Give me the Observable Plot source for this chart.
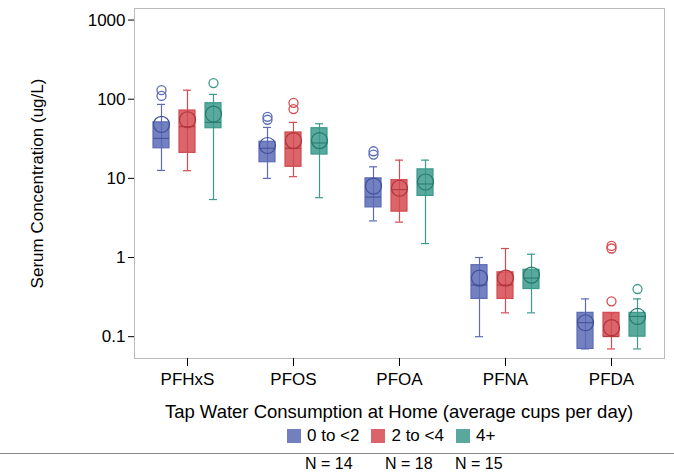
<!DOCTYPE html>
<html><head><meta charset="utf-8">
<script src="https://cdn.jsdelivr.net/npm/d3@7"></script>
<script src="https://cdn.jsdelivr.net/npm/@observablehq/plot@0.6"></script>
<style>
body{margin:0;font-family:Arial,"Liberation Sans",sans-serif;background:#fff}
#foot{position:relative;width:674px;height:80px;color:#000}
</style></head><body>
<div id="chart"></div>
<div id="foot"></div>
<script>
const compounds = ["PFHxS", "PFOS", "PFOA", "PFNA", "PFDA"];
const groups = ["0 to <2", "2 to <4", "4+"];
const colors = ["#5b6bb6", "#d44a50", "#3c9a8c"];
const darker = ["#3f4f9a", "#b0343a", "#257a6d"];
const groupN = ["N = 14", "N = 18", "N = 15"];
const yTicks = [0.1, 1, 10, 100, 1000];

// [low whisker, q1, median, q3, high whisker, mean] per compound, per group
const stats = [
  [[12.6, 24, 32, 51, 86, 48], [12.5, 21, 45, 72, 130, 55], [5.4, 43, 51, 89, 115, 65]],
  [[10, 16, 24, 29, 44, 26], [10.5, 14, 24, 38, 51, 30], [5.7, 20, 28, 43, 49, 30]],
  [[2.9, 4.3, 5.8, 10, 14, 8], [2.8, 3.8, 7.2, 9.5, 17, 7.5], [1.5, 6, 8.5, 13, 17, 9]],
  [[0.1, 0.3, 0.45, 0.8, 1.0, 0.55], [0.2, 0.3, 0.45, 0.65, 1.3, 0.55], [0.2, 0.4, 0.55, 0.7, 1.1, 0.6]],
  [[0.07, 0.07, 0.15, 0.2, 0.3, 0.15], [0.07, 0.1, 0.1, 0.2, 0.2, 0.13], [0.07, 0.1, 0.18, 0.2, 0.3, 0.18]]
];
const outliers = [
  [[110, 130], [], [160]],
  [[55, 60], [75, 90], []],
  [[20, 22], [], []],
  [[], [], []],
  [[], [0.28, 1.3, 1.4], [0.4]]
];

const boxes = [];
const outs = [];
compounds.forEach((c, i) => groups.forEach((g, j) => {
  const [lo, q1, med, q3, hi, mean] = stats[i][j];
  boxes.push({c, g, lo, q1, med, q3, hi, mean, dk: darker[j]});
  outliers[i][j].forEach(v => outs.push({c, g, v}));
}));

const chart = Plot.plot({
  width: 674, height: 395,
  marginLeft: 132, marginRight: 8, marginTop: 8, marginBottom: 37,
  style: {fontSize: "17px", fontFamily: "Arial, 'Liberation Sans', sans-serif", color: "#000"},
  fx: {domain: compounds, padding: 0, label: null},
  x: {domain: groups, axis: null, paddingInner: 0.37, paddingOuter: 0.67},
  y: {type: "log", domain: [0.053, 1400]},
  color: {domain: groups, range: colors},
  marks: [
    Plot.frame({stroke: "#bbb", facet: "super"}),
    Plot.axisFx({anchor: "bottom", fontSize: 17, tickSize: 8, tickPadding: 6, label: null}),
    Plot.axisY({ticks: yTicks, tickFormat: d => String(d), fontSize: 17, tickSize: 6,
      label: "Serum Concentration (ug/L)", labelAnchor: "center", labelArrow: "none", labelOffset: 104}),
    Plot.ruleX(boxes, {fx: "c", x: "g", y1: "lo", y2: "hi", stroke: "g", strokeWidth: 1.2}),
    Plot.tickY(boxes, {fx: "c", x: "g", y: "lo", stroke: "g", strokeWidth: 1.2, insetLeft: 4, insetRight: 4}),
    Plot.tickY(boxes, {fx: "c", x: "g", y: "hi", stroke: "g", strokeWidth: 1.2, insetLeft: 4, insetRight: 4}),
    Plot.barY(boxes, {fx: "c", x: "g", y1: "q1", y2: "q3", fill: "g", fillOpacity: 0.85, stroke: "g", strokeWidth: 1.2}),
    Plot.tickY(boxes, {fx: "c", x: "g", y: "med", stroke: "dk", strokeWidth: 1}),
    Plot.dot(boxes, {fx: "c", x: "g", y: "mean", r: 8, stroke: "dk", strokeWidth: 1.2, fill: "none"}),
    Plot.dot(outs, {fx: "c", x: "g", y: "v", r: 4.5, stroke: "g", strokeWidth: 1.3, fill: "none"})
  ]
});
document.getElementById("chart").appendChild(chart);

const foot = d3.select("#foot");
foot.append("div").text("Tap Water Consumption at Home (average cups per day)")
  .style("position", "absolute").style("left", "0").style("width", "798px").style("top", "6px")
  .style("text-align", "center").style("font-size", "18.5px");
const leg = foot.append("div").style("position", "absolute").style("left", "287px").style("top", "31px")
  .style("font-size", "17px").style("display", "flex").style("gap", "12px");
groups.forEach((g, i) => {
  const it = leg.append("span").style("display", "flex").style("align-items", "center").style("gap", "6px");
  it.append("span").style("display", "inline-block").style("width", "12px").style("height", "12px")
    .style("background", colors[i]).style("opacity", 0.85).style("border", `1px solid ${colors[i]}`);
  it.append("span").text(g);
});
foot.append("div").style("position", "absolute").style("left", "0").style("width", "674px")
  .style("top", "58px").style("border-top", "1px solid #888");
const nx = [305, 385, 455];
groupN.forEach((t, i) => foot.append("div").text(t).style("position", "absolute")
  .style("left", nx[i] + "px").style("top", "60px").style("font-size", "16px"));
</script>
</body></html>
